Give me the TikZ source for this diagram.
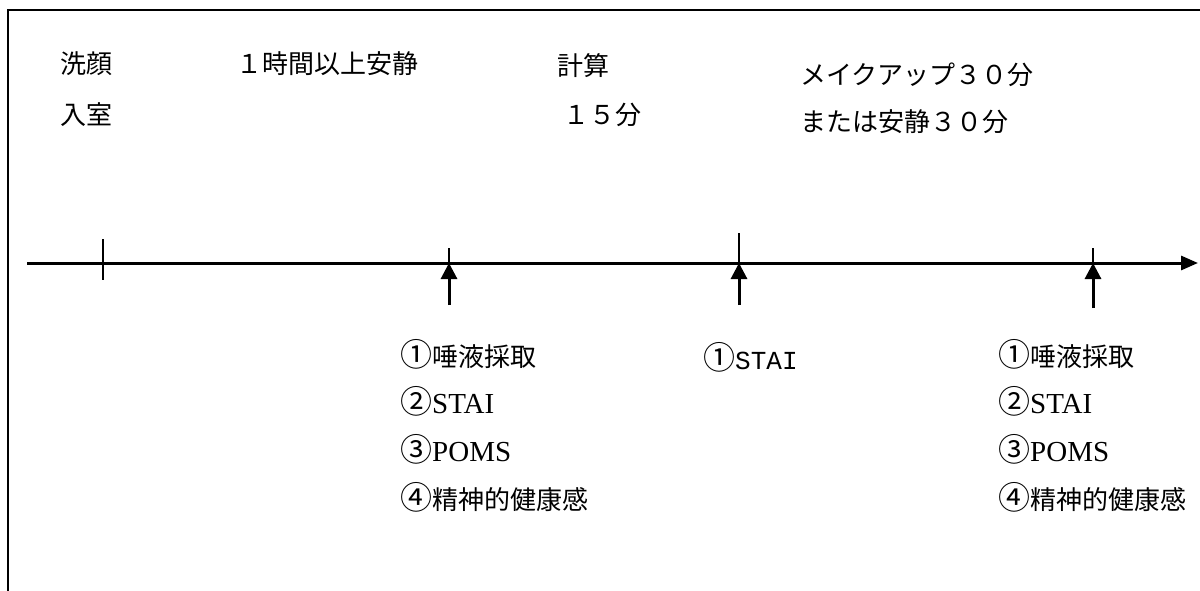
\documentclass[tikz,border=0pt]{standalone}
\usepackage{fontspec}
\setmainfont{Liberation Serif}
\newfontfamily\jp{Noto Sans CJK JP}
\newfontfamily\mono{Liberation Mono}
\newcommand{\circnum}[1]{{\fontsize{32pt}{30pt}\selectfont\jp #1}}
\newcommand{\latn}[1]{{\fontsize{29pt}{30pt}\selectfont\rmfamily #1}}
\usetikzlibrary{arrows.meta}
\tikzset{
  lbl/.style={anchor=west, inner sep=0pt, font=\fontsize{26pt}{30pt}\selectfont\jp},
  frame/.style={line width=2.5pt, black},
  axis/.style={line width=3pt, -{Triangle[length=17pt,width=14pt]}},
  tick/.style={line width=2pt},
  up/.style={line width=3pt, -{Triangle[length=16pt,width=16pt]}}
}
\begin{document}
\begin{tikzpicture}[x=1pt,y=-1pt]
\useasboundingbox (0,0) rectangle (1200,591);
% frame
\coordinate (fb) at (8,591);
\coordinate (fc) at (8,10);
\coordinate (fr) at (1200,10);
\draw[frame] (fb) -- (fc) -- (fr);
% top labels
\node[lbl] (a1) at (60,64) {洗顔};
\node[lbl] (a2) at (60,115) {入室};
\node[lbl] (b1) at (236,64) {１時間以上安静};
\node[lbl] (c1) at (557,66) {計算};
\node[lbl] (c2) at (563,115) {１５分};
\node[lbl] (d1) at (800,75) {メイクアップ３０分};
\node[lbl] (d2) at (800,122) {または安静３０分};
% axis
\coordinate (s) at (27,263);
\coordinate (e) at (1198,263);
\draw[axis] (s) -- (e);
% ticks
\coordinate (t0a) at (103,239);
\coordinate (t0b) at (103,280);
\draw[tick] (t0a) -- (t0b);
\coordinate (t1) at (449,248);
\coordinate (p1) at (449,263);
\coordinate (q1) at (449,305);
\draw[tick] (t1) -- (p1);
\draw[up] (q1) -- (p1);
\coordinate (t2) at (739,233);
\coordinate (p2) at (739,263);
\coordinate (q2) at (739,305);
\draw[tick] (t2) -- (p2);
\draw[up] (q2) -- (p2);
\coordinate (t3) at (1093,248);
\coordinate (p3) at (1093,263);
\coordinate (q3) at (1093,308);
\draw[tick] (t3) -- (p3);
\draw[up] (q3) -- (p3);
% bottom labels
\node[lbl] (l1) at (400,354) {\circnum{①}唾液採取};
\node[lbl] (l2) at (400,401) {\circnum{②}\latn{STAI}};
\node[lbl] (l3) at (400,449) {\circnum{③}\latn{POMS}};
\node[lbl] (l4) at (400,497) {\circnum{④}精神的健康感};
\node[lbl] (m1) at (703,357) {\circnum{①}{\mono STAI}};
\node[lbl] (r1) at (998,354) {\circnum{①}唾液採取};
\node[lbl] (r2) at (998,401) {\circnum{②}\latn{STAI}};
\node[lbl] (r3) at (998,449) {\circnum{③}\latn{POMS}};
\node[lbl] (r4) at (998,497) {\circnum{④}精神的健康感};
\end{tikzpicture}
\end{document}
